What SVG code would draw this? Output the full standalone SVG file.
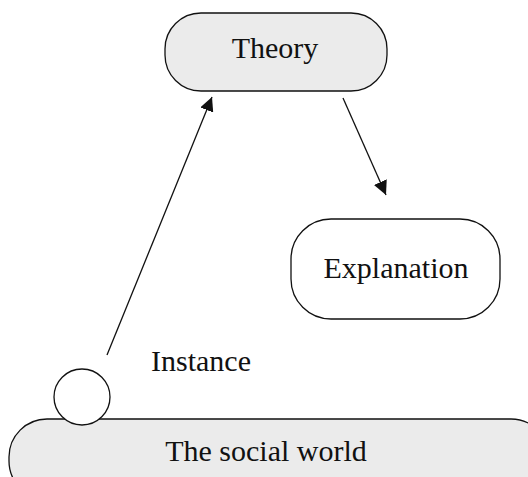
<svg xmlns="http://www.w3.org/2000/svg" width="528" height="477" viewBox="0 0 528 477">
<style>
.box{stroke:#111;stroke-width:1.3}
.grey{fill:#ebebeb}
.white{fill:#fff}
.lbl{font-family:"Liberation Serif","Times New Roman",serif;font-size:30px;fill:#111;text-anchor:middle}
.edge{stroke:#111;stroke-width:1.3;fill:none}
</style>
<defs>
<marker id="arr" viewBox="0 0 10 10" refX="10" refY="5" markerWidth="14" markerHeight="14" markerUnits="userSpaceOnUse" orient="auto">
<path d="M0,0 L10,5 L0,10 z" fill="#111"/>
</marker>
</defs>
<rect width="528" height="477" fill="#fff"/>
<g id="theory">
<rect class="box grey" x="165" y="13" width="222" height="78" rx="36" ry="36"/>
<text class="lbl" x="275" y="58">Theory</text>
</g>
<g id="explanation">
<rect class="box white" x="291" y="219" width="209" height="100" rx="40" ry="40"/>
<text class="lbl" x="396" y="278">Explanation</text>
</g>
<g id="social-world">
<rect class="box grey" x="9" y="419" width="540" height="80" rx="38" ry="38"/>
<text class="lbl" x="266" y="461">The social world</text>
</g>
<g id="instance">
<circle class="box white" cx="82" cy="397" r="28"/>
<text class="lbl" x="201" y="371">Instance</text>
</g>
<g id="connectors">
<line class="edge" x1="107" y1="355" x2="212" y2="97" marker-end="url(#arr)"/>
<line class="edge" x1="343" y1="98" x2="386" y2="195" marker-end="url(#arr)"/>
</g>
</svg>
